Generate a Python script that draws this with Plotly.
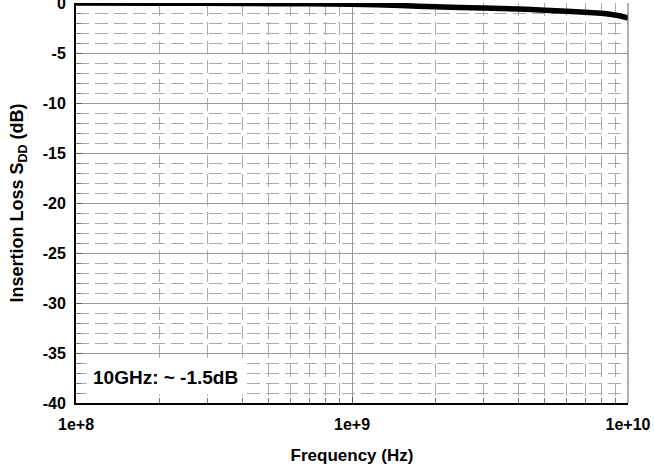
import plotly.graph_objects as go

freq_hz = [1e8, 2e8, 4e8, 7e8, 1e9, 1.5e9, 2e9, 3e9, 4e9, 5e9, 6e9, 7e9, 8e9, 8.6e9, 9.3e9, 1e10]
loss_db = [0.0, -0.02, -0.05, -0.08, -0.12, -0.25, -0.38, -0.5, -0.6, -0.72, -0.82, -0.92, -1.03, -1.12, -1.28, -1.5]

y_tick_vals = [0, -5, -10, -15, -20, -25, -30, -35, -40]
y_tick_text = ["0", "-5", "-10", "-15", "-20", "-25", "-30", "-35", "-40"]
x_tick_vals = [1e8, 1e9, 1e10]
x_tick_text = ["1e+8", "1e+9", "1e+10"]

annotation_text = "10GHz: ~ -1.5dB"
x_title = "Frequency (Hz)"
y_title = "Insertion Loss S<sub>DD</sub> (dB)"

font_family = "Liberation Sans, Arial, sans-serif"


def bold(labels):
    return ["<b>" + t + "</b>" for t in labels]


fig = go.Figure()
fig.add_trace(go.Scatter(
    x=freq_hz, y=loss_db, mode="lines",
    line=dict(color="black", width=5.5, shape="spline", smoothing=0.6),
    cliponaxis=False, showlegend=False, hoverinfo="skip",
))

fig.add_annotation(
    x=0.018, y=0.065, xref="paper", yref="paper", xanchor="left", yanchor="middle",
    text="<b>" + annotation_text + "</b>", showarrow=False,
    font=dict(family=font_family, size=19, color="black"),
    bgcolor="white", borderpad=6,
)

fig.update_xaxes(
    type="log", range=[8, 10], tickvals=x_tick_vals, ticktext=bold(x_tick_text),
    showgrid=True, gridcolor="#999999", gridwidth=1,
    showline=True, linecolor="black", linewidth=2, mirror=False,
    ticks="inside", ticklen=6, tickcolor="#555555",
    tickfont=dict(family=font_family, size=16, color="black"),
    ticklabelstandoff=6, ticklabeloverflow="allow",
    title=dict(text="<b>" + x_title + "</b>", font=dict(family=font_family, size=17, color="black"), standoff=17),
    minor=dict(dtick="D1", showgrid=True, gridcolor="#aaaaaa", griddash="13px,6px", gridwidth=1,
               ticks="inside", ticklen=5, tickcolor="#777777"),
    zeroline=False, automargin=False,
)
fig.update_yaxes(
    range=[-40, 0], tickvals=y_tick_vals, ticktext=bold(y_tick_text),
    showgrid=True, gridcolor="#999999", gridwidth=1,
    showline=True, linecolor="black", linewidth=2,
    ticks="inside", ticklen=6, tickcolor="#555555",
    tickfont=dict(family=font_family, size=16, color="black"),
    ticklabelstandoff=5, ticklabeloverflow="allow",
    title=dict(text="<b>" + y_title + "</b>", font=dict(family=font_family, size=18, color="black"), standoff=14),
    minor=dict(dtick=1, showgrid=True, gridcolor="#aaaaaa", griddash="13px,6px", gridwidth=1,
               ticks="inside", ticklen=5, tickcolor="#777777"),
    zeroline=False, automargin=False,
)

fig.add_shape(type="line", xref="paper", yref="paper", x0=1, x1=1, y0=0, y1=1,
              line=dict(color="#666666", width=1))

fig.update_layout(
    width=654, height=473,
    margin=dict(l=76, r=26, t=3, b=70),
    plot_bgcolor="white", paper_bgcolor="white",
    font=dict(family=font_family, color="black"),
    hovermode=False,
)

fig.write_html("out.html", config={"displayModeBar": False, "staticPlot": True},
               post_script="document.body.style.margin='0';")
